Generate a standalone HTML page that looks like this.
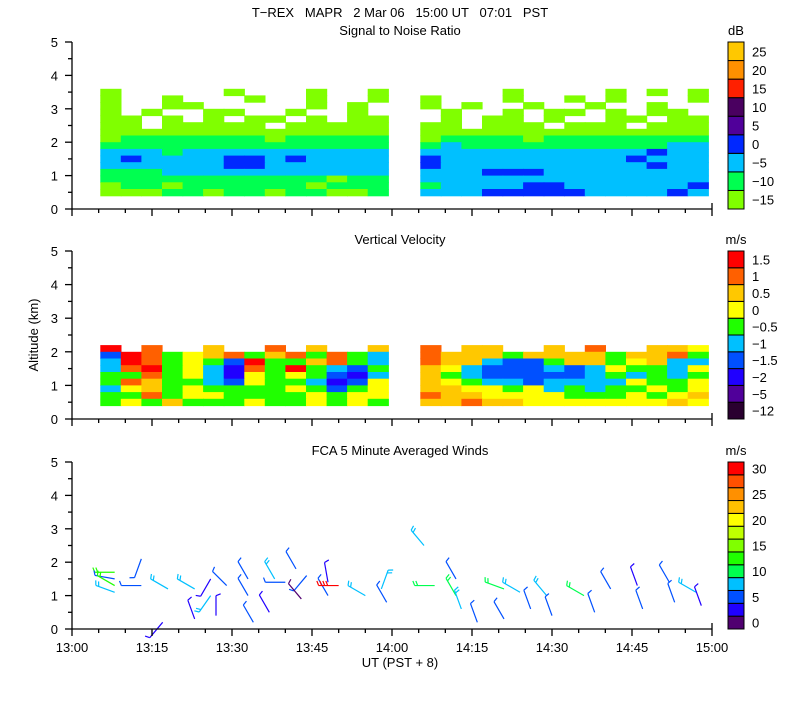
<!DOCTYPE html>
<html><head><meta charset="utf-8">
<style>
body{margin:0;background:#fff;}
svg text{font-family:"Liberation Sans",sans-serif;font-size:13px;fill:#000;}
</style></head>
<body>
<svg id="chart" width="800" height="700" xmlns="http://www.w3.org/2000/svg">
<text x="400" y="17" text-anchor="middle" xml:space="preserve">T−REX   MAPR   2 Mar 06   15:00 UT   07:01   PST</text>
</svg>
<script>
// ---------- data ----------
const altTicks=[0,1,2,3,4,5];
const timeTickLabels=["13:00","13:15","13:30","13:45","14:00","14:15","14:30","14:45","15:00"];
const snrColors=["#80ff00","#00ff50","#00c0ff","#0028ff","#50009a","#4a0060","#ff2000","#ff9000","#ffc800"];
const snrLabels=["−15","−10","−5","0","5","10","15","20","25"];
const vvColors=["#2a0030","#50009a","#2000ff","#0050ff","#00c0ff","#20ff00","#ffff00","#ffc800","#ff6000","#ff0000"];
const vvLabels=["−12","−5","−2","−1.5","−1","−0.5","0","0.5","1","1.5"];
const windColors=["#500070","#2000ff","#0050ff","#00c0ff","#00ff50","#20ff00","#80ff00","#c0ff00","#ffff00","#ffc000","#ff9000","#ff5000","#ff0000"];
const windLabels=["0","","5","","10","","15","","20","","25","","30"];
// grid rows: altitude bottom edges (km), top row first; each row 14 left bins (13:05-13:59) + 14 right bins (14:05-14:59)
const snrRowAlts=[3.4,3.2,3.0,2.8,2.6,2.4,2.2,2.0,1.8,1.6,1.4,1.2,1.0,0.8,0.6,0.4];
const snrRows=[
"0.....0...0..0....0....0.0.0",
"0..0...0..0..00...0..0.0...0",
"0..00.....0.0.0.0..0..0..0..",
"0.0..00..0..0..0..0.00.0.00.",
"00.0.0.00.0.00.0.00.0..00.00",
"00.00000.0000000.000.000.000",
"0000000000000000000000000000",
"0111111101111101111011111111",
"1111111111111112111111111122",
"2221222222222222222222222322",
"2322223323222232222222223222",
"2222223322222232222222222322",
"1112222222222222233322222222",
"1111111111101122222222222222",
"0110111111011112222332222223",
"0001101101100122233333222232"];
const vvRowAlts=[2.0,1.8,1.6,1.4,1.2,1.0,0.8,0.6,0.4];
const vvRows=[
"9.8..7..8.7..78.77..7.8..776",
"3985678578585487775777757785",
"4985653955785487743357756744",
"4895642859543576433343465546",
"5585642656532475433333454545",
"5875543655423676544344446556",
"4675655556535677665645455656",
"5585665555656687766665556567",
"5657555655656577877666666676"];
// winds: time (min after 13:00), altitude (km), speed (m/s), direction (deg, from)
const windTimes=[8,8,8,8,13,13,17,18,23,23,26,26,27,29,33,33,34,37,38,40,42,44,43,48,48,50,55,58,59,66,68,72,72,73,76,81,81,84,86,89,90,96,98,101,106,107,112,113,117,118];
const windAlts=[1.7,1.5,1.3,1.1,2.1,1.3,0.2,1.2,0.3,1.2,1.5,1.0,0.4,1.3,1.5,1.0,0.2,0.5,1.5,1.4,1.8,1.6,0.9,1.4,1.0,1.3,1.0,1.2,0.8,2.5,1.3,1.5,1.0,0.6,0.2,1.2,0.3,1.1,0.6,1.0,0.4,1.0,0.5,1.2,1.3,0.6,1.4,0.8,1.1,0.7];
const windSpeeds=[13,6,13,8,5,5,3,8,3,8,4,8,3,5,5,5,5,3,8,5,5,5,2,3,5,30,8,8,5,8,11,5,12,8,6,10,5,8,5,8,5,11,5,6,4,5,5,5,8,4];
const windDirs=[270,280,300,290,200,270,220,300,340,300,210,215,0,315,330,330,330,330,330,270,330,220,320,350,330,270,300,20,330,320,270,330,330,340,340,290,330,300,340,320,340,300,340,330,340,340,330,340,300,340];

// ---------- layout ----------
const svg=document.getElementById('chart');
const NS='http://www.w3.org/2000/svg';
const X0=72,X1=712;
function xScale(min){return X0+(X1-X0)*min/120;}
const panels=[{y0:209,y5:42},{y0:419,y5:251},{y0:629,y5:462}];
function yScale(p,alt){return p.y0+(p.y5-p.y0)*alt/5;}
function mk(tag,attrs,parent){const e=document.createElementNS(NS,tag);for(const k in attrs)e.setAttribute(k,attrs[k]);(parent||svg).appendChild(e);return e;}
function txt(x,y,s,anchor,parent){const t=mk('text',{x:x,y:y,'text-anchor':anchor||'start'},parent);t.textContent=s;return t;}

const titles=["Signal to Noise Ratio","Vertical Velocity","FCA 5 Minute Averaged Winds"];
const units=["dB","m/s","m/s"];
panels.forEach((p,i)=>{
  const g=mk('g',{});
  
  
  const t=txt(400,p.y5-7,titles[i],'middle',g);
  
  
  const u=txt(736,p.y5-7,units[i],'middle',g);
  
  
  p.g=g;
});

function drawGrid(p,rows,alts,colors,name){
  const g=mk('g',{},p.g);
  
  
  rows.forEach((row,ri)=>{
    const a=alts[ri];
    for(let c=0;c<28;c++){
      const ch=row[c];if(ch==='.'||ch===undefined)continue;
      const left=c<14;const k=left?c:c-14;
      const tStart=(left?5.3:65.3)+k*(54/14);
      const xa=xScale(tStart),xb=xScale(tStart+54/14);
      const ya=yScale(p,a+0.2),yb=yScale(p,a);
      const r=mk('rect',{x:xa.toFixed(1),y:ya.toFixed(1),width:(xb-xa+0.6).toFixed(1),height:(yb-ya+0.6).toFixed(1),fill:colors[+ch]},g);
      
      
    }
  });
}
drawGrid(panels[0],snrRows,snrRowAlts,snrColors,'snr-field');
drawGrid(panels[1],vvRows,vvRowAlts,vvColors,'velocity-field');

// wind barbs
const wg=mk('g',{},panels[2].g);


windTimes.forEach((t,i)=>{
  const x=xScale(t),y=yScale(panels[2],windAlts[i]);
  const sp=windSpeeds[i];
  const col=windColors[Math.min(12,Math.floor(sp/2.5))];
  const d=windDirs[i]*Math.PI/180;
  const L=20,dx=Math.sin(d),dy=-Math.cos(d);
  const ex=x+dx*L,ey=y+dy*L;
  const b=mk('g',{stroke:col,'stroke-width':1.2,fill:'none'},wg);
  
  
  mk('line',{x1:x,y1:y,x2:ex,y2:ey},b);
  const n=sp>=20?4:(sp>=7?2:1);
  for(let k=0;k<n;k++){
    const px=ex-dx*k*3,py=ey-dy*k*3;
    const bx=px+(dx*Math.cos(1.2)-dy*Math.sin(1.2))*5;
    const by=py+(dy*Math.cos(1.2)+dx*Math.sin(1.2))*5;
    mk('line',{x1:px,y1:py,x2:bx,y2:by},b);
  }
});

// axes
panels.forEach((p,i)=>{
  const g=mk('g',{stroke:'#000','stroke-width':1.3},p.g);
  
  
  mk('line',{x1:X0,y1:p.y5,x2:X0,y2:p.y0},g);
  mk('line',{x1:X0,y1:p.y0,x2:X1,y2:p.y0},g);
  mk('line',{x1:X1,y1:p.y0,x2:X1,y2:p.y0-6},g);
  for(let a=0;a<=5;a+=0.5){
    const y=yScale(p,a);
    mk('line',{x1:X0-(a%1===0?7:4),y1:y,x2:X0,y2:y},g);
  }
  for(let m=0;m<=120;m+=5){
    const x=xScale(m);
    mk('line',{x1:x,y1:p.y0,x2:x,y2:p.y0+(m%15===0?7:4)},g);
  }
  altTicks.forEach(a=>{
    const l=txt(X0-14,yScale(p,a)+5,String(a),'end',p.g);
    
    
  });
});
timeTickLabels.forEach((s,i)=>{
  const l=txt(xScale(i*15),652,s,'middle');
  
  
});
const xt=txt(400,667,'UT   (PST + 8)','middle');
xt.setAttribute('xml:space','preserve');


const yt=txt(0,0,'Altitude (km)','middle');
yt.setAttribute('transform','translate(38,335) rotate(-90)');
yt.setAttribute('font-size','12');



function colorbar(p,colors,labels,name){
  const g=mk('g',{},p.g);
  
  
  const n=colors.length,h=(p.y0-p.y5)/n;
  colors.forEach((c,k)=>{
    const y=p.y0-(k+1)*h;
    const r=mk('rect',{x:728,y:y,width:16,height:h,fill:c,stroke:'#000','stroke-width':1},g);
    
    
    if(labels[k]){
      const l=txt(752,y+h/2+5,labels[k],'start',g);
      
      
    }
  });
}
colorbar(panels[0],snrColors,snrLabels,'snr-colorbar');
colorbar(panels[1],vvColors,vvLabels,'velocity-colorbar');
colorbar(panels[2],windColors,windLabels,'wind-colorbar');
</script>
</body></html>
